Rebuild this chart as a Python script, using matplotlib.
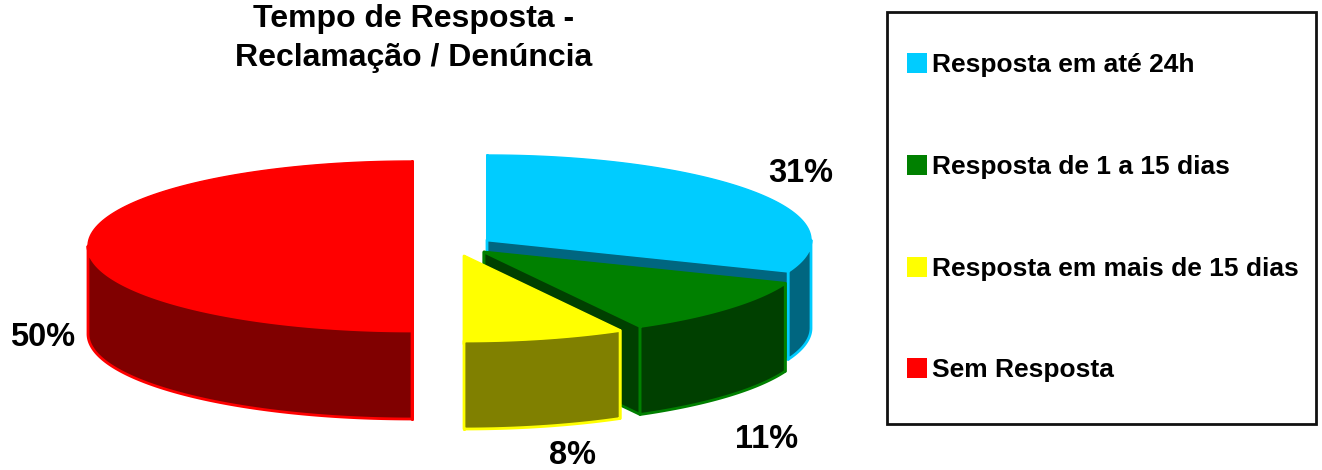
import numpy as np
import matplotlib
matplotlib.use('Agg')
import matplotlib.pyplot as plt
from matplotlib.patches import Polygon, Rectangle

plt.rcParams['font.family'] = ['Liberation Sans', 'DejaVu Sans']

# dados
categorias = ['Resposta em até 24h', 'Resposta de 1 a 15 dias',
              'Resposta em mais de 15 dias', 'Sem Resposta']
valores = [31, 11, 8, 50]
cores = ['#00CCFF', '#008000', '#FFFF00', '#FF0000']
cores_escuras = ['#006680', '#004000', '#808000', '#800000']

# layout em pixels da imagem
centros = [(487, 240), (484, 252), (464, 256), (412, 246)]
pos_rotulos = [(801, 174), (767, 440), (573, 456), (43, 338)]
rx, ry, prof = 324, 85, 88


def arco(cx, cy, a0, a1):
    t = np.radians(np.linspace(a0, a1, 120))
    return np.column_stack([cx + rx * np.cos(t), cy - ry * np.sin(t)])


def fatia(ax, centro, a0, a1, cor, escura):
    # a0 > a1, sentido horario
    cx, cy = centro
    est = dict(facecolor=escura, edgecolor=cor, linewidth=2, joinstyle='round')
    # paredes de corte
    for a in (a0, a1):
        p = arco(cx, cy, a, a)[0]
        ax.add_patch(Polygon([(cx, cy), p, (p[0], p[1] + prof), (cx, cy + prof)], **est))
    # parede externa, so a parte da frente
    lo, hi = max(a1, -180), min(a0, 0)
    if a1 < -180:
        lo = -180
    if lo < hi:
        frente = arco(cx, cy, hi, lo)
        baixo = frente[::-1] + [0, prof]
        ax.add_patch(Polygon(np.vstack([frente, baixo]), **est))
    # topo
    topo = np.vstack([[(cx, cy)], arco(cx, cy, a0, a1)])
    ax.add_patch(Polygon(topo, facecolor=cor, edgecolor=cor, linewidth=1))


fig = plt.figure(figsize=(13.22, 4.7), dpi=100)
ax = fig.add_axes([0, 0, 1, 1])
ax.set_xlim(0, 1322)
ax.set_ylim(470, 0)
ax.axis('off')

# angulos a partir do topo, sentido horario
fim = 90 - np.cumsum(valores) * 3.6
inicio = np.r_[90, fim[:-1]]
for i in [0, 3, 1, 2]:
    fatia(ax, centros[i], inicio[i], fim[i], cores[i], cores_escuras[i])

for v, (x, y) in zip(valores, pos_rotulos):
    ax.text(x, y, '%d%%' % v, fontsize=23.5, fontweight='bold', ha='center', va='center')

ax.text(414, 38.5, 'Tempo de Resposta -\nReclamação / Denúncia', fontsize=23,
        fontweight='bold', ha='center', va='center', linespacing=1.38)

# legenda
ax.add_patch(Rectangle((887, 12), 429, 412, facecolor='white', edgecolor='#111111', linewidth=2))
leg_y = [63, 165, 267, 368]
for nome, cor, y in zip(categorias, cores, leg_y):
    ax.add_patch(Rectangle((907, y - 10), 20, 20, facecolor=cor, edgecolor='none'))
    ax.text(932, y + 2, nome, fontsize=19, fontweight='bold', ha='left', va='center')

fig.savefig('out.png', dpi=100)
